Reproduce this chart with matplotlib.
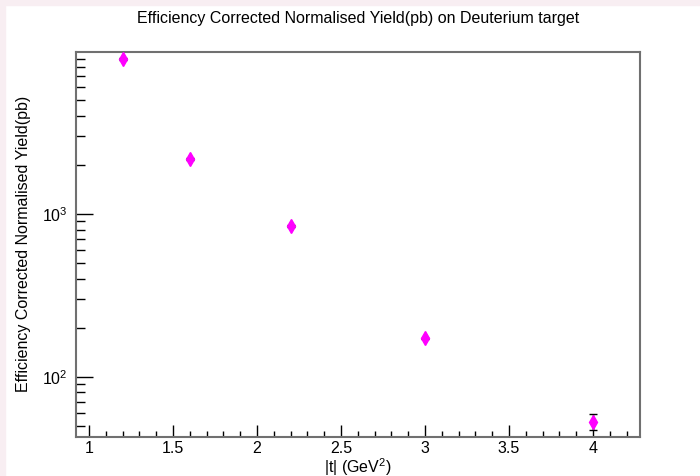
import math
import matplotlib
matplotlib.use("Agg")
import matplotlib.pyplot as plt
from matplotlib.ticker import LogLocator, MultipleLocator, NullFormatter, FuncFormatter
from matplotlib.patches import Rectangle

plt.rcParams['font.family'] = ['Liberation Sans', 'DejaVu Sans']
plt.rcParams['mathtext.fontset'] = 'custom'
plt.rcParams['mathtext.rm'] = 'Liberation Sans'
plt.rcParams['mathtext.it'] = 'Liberation Sans:italic'

# |t| bins and efficiency corrected yields (pb)
t_vals = [1.2, 1.6, 2.2, 3.0, 4.0]
yields = [8970, 2180, 844, 172, 52.8]
yield_err = [90, 25, 9, 2, 6]

title = "Efficiency Corrected Normalised Yield(pb) on Deuterium target"
xlabel = "|t| (GeV$^{2}$)"
ylabel = "Efficiency Corrected Normalised Yield(pb)"

fig = plt.figure(figsize=(7, 4.76), dpi=100)
# light pink canvas edge, top and left
fig.patches.append(Rectangle((0, 0), 5 / 700, 1, transform=fig.transFigure,
                             color='#f8eef2', zorder=-1))
fig.patches.append(Rectangle((0, 1 - 5 / 476), 1, 5 / 476, transform=fig.transFigure,
                             color='#f8eef2', zorder=-1))

ax = fig.add_axes([0.1081, 0.0826, 0.8062, 0.8082])
ax.errorbar(t_vals, yields, yerr=yield_err, fmt='none', ecolor='black',
            elinewidth=1, capsize=3, zorder=2)
ax.plot(t_vals, yields, 'd', color='magenta', markersize=7, zorder=3)

ax.set_yscale('log')
ax.set_xlim(0.92, 4.28)
ax.set_ylim(42.8, 9900)

ax.xaxis.set_major_locator(MultipleLocator(0.5))
ax.xaxis.set_minor_locator(MultipleLocator(0.1))
ax.xaxis.set_major_formatter(FuncFormatter(lambda v, p: ('%g' % v)))
ax.yaxis.set_major_locator(LogLocator(base=10))
ax.yaxis.set_minor_locator(LogLocator(base=10, subs=range(2, 10)))
ax.yaxis.set_minor_formatter(NullFormatter())
ax.yaxis.set_major_formatter(FuncFormatter(lambda v, p: r'$\mathregular{10^{%d}}$' % round(math.log10(v))))

ax.tick_params(axis='x', which='major', direction='in', length=9, width=1, labelsize=11.5, pad=3)
ax.tick_params(axis='x', which='minor', direction='in', length=4.3, width=1)
ax.tick_params(axis='y', which='major', direction='in', length=12, width=1, labelsize=11.5, pad=6)
ax.tick_params(axis='y', which='minor', direction='in', length=6.5, width=1)

for s in ax.spines.values():
    s.set_color('#707070')
    s.set_linewidth(1.5)

ax.set_title(title, fontsize=11.5, pad=21)
ax.set_xlabel(xlabel, fontsize=11.5, labelpad=0)
ax.set_ylabel(ylabel, fontsize=11.5, labelpad=8)

fig.savefig("out.png", dpi=100)
